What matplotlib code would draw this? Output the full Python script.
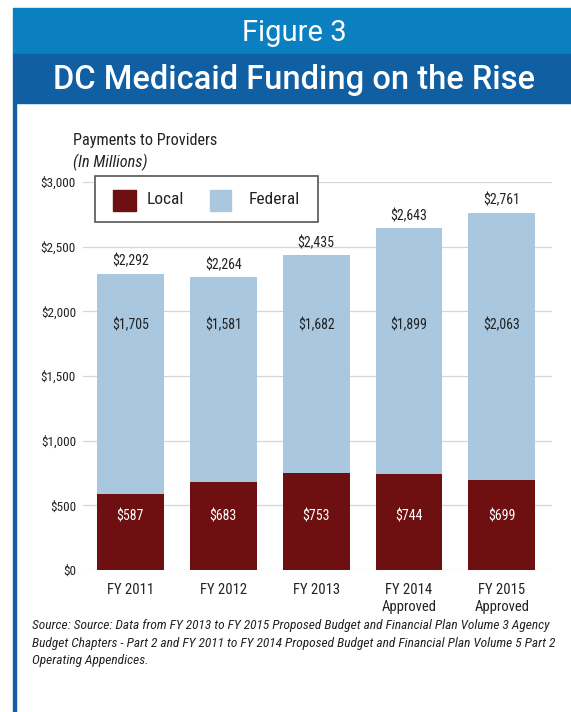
import matplotlib
matplotlib.use("Agg")
import matplotlib.pyplot as plt
from matplotlib.patches import Rectangle
from matplotlib import font_manager as fm

categories = ["FY 2011", "FY 2012", "FY 2013", "FY 2014\nApproved", "FY 2015\nApproved"]
series_names = ["Local", "Federal"]
local_vals = [587, 683, 753, 744, 699]
federal_vals = [1705, 1581, 1682, 1899, 2063]
total_labels = ["$2,292", "$2,264", "$2,435", "$2,643", "$2,761"]
yticks = [0, 500, 1000, 1500, 2000, 2500, 3000]
ytick_labels = ["$0", "$500", "$1,000", "$1,500", "$2,000", "$2,500", "$3,000"]

names = {f.name for f in fm.fontManager.ttflist}
cands = ["Roboto Condensed", "Liberation Sans Narrow", "Open Sans Condensed", "Lato", "DejaVu Sans"]
NARROW = [c for c in cands if c in names][0]
plt.rcParams["font.family"] = [NARROW, "DejaVu Sans"]

RED = "#6e1011"
BLUE = "#a9c7df"
TXT = "#222222"
W, H = 571, 712
fig = plt.figure(figsize=(W / 100, H / 100), dpi=100)

def fx(px):
    return px / W

def fy(py):
    return 1 - py / H

def frect(x0, y0, x1, y1, **kw):
    # rectangle given in pixel coords from top-left
    r = Rectangle((fx(x0), fy(y1)), fx(x1) - fx(x0), fy(y0) - fy(y1), transform=fig.transFigure, **kw)
    fig.patches.append(r)
    return r

# header bands
frect(13, 8, 571, 54, color="#0a80c1", zorder=0)
frect(13, 54, 571, 103, color="#0f5fa2", zorder=0)
frect(13, 103, 15.5, 712, color="#0f5fa2", zorder=0)
fig.text(fx(294), fy(33), "Figure 3", color="white", fontsize=21, family="Roboto",
         fontweight="normal", ha="center", va="center")
fig.text(fx(294), fy(79.5), "DC Medicaid Funding on the Rise", color="white", fontsize=23.5,
         family="Roboto", fontweight="medium", ha="center", va="center")

ax = fig.add_axes([fx(83), fy(570), fx(552) - fx(83), fy(182) - fy(570)])
x = list(range(len(categories)))
ax.bar(x, local_vals, width=0.72, color=RED, zorder=3, label=series_names[0])
ax.bar(x, federal_vals, width=0.72, bottom=local_vals, color=BLUE, zorder=3, label=series_names[1])
ax.set_xlim(-0.51, 4.54)
ax.set_ylim(0, 3000)
ax.set_yticks(yticks)
ax.set_yticklabels(ytick_labels)
ax.set_xticks(x)
ax.set_xticklabels(categories, linespacing=1.3)
ax.grid(axis="y", color="#d6d6d6", lw=0.9, zorder=0)
for s in ax.spines.values():
    s.set_visible(False)
ax.tick_params(axis="both", length=0, labelsize=10.5, colors=TXT)
ax.tick_params(axis="y", pad=5)
ax.tick_params(axis="x", pad=9)
for lbl in ax.get_yticklabels():
    lbl.set_fontsize(9.5)

for i in x:
    tot = local_vals[i] + federal_vals[i]
    ax.text(i, tot + 40, total_labels[i], ha="center", va="bottom", fontsize=10, color=TXT)
    ax.text(i, 1890, f"${federal_vals[i]:,}", ha="center", va="center", fontsize=10, color=TXT)
    ax.text(i, 415, f"${local_vals[i]:,}", ha="center", va="center", fontsize=10, color="white")

# legend box (drawn manually to match the reference placement)
frect(95, 176, 318, 222, facecolor="white", edgecolor="#555555", lw=1.2, zorder=5)
frect(113, 190, 136, 211, color=RED, zorder=6)
frect(210, 190, 231, 211, color=BLUE, zorder=6)
fig.text(fx(147), fy(199.5), series_names[0], fontsize=12.5, color=TXT, va="center", zorder=7)
fig.text(fx(249), fy(199.5), series_names[1], fontsize=12.5, color=TXT, va="center", zorder=7)

fig.text(fx(73), fy(141), "Payments to Providers", fontsize=11.7, color=TXT, va="center")
fig.text(fx(73), fy(162), "(In Millions)", fontsize=11.7, style="italic", color=TXT, va="center")

caption = ("Source: Source: Data from FY 2013 to FY 2015 Proposed Budget and Financial Plan Volume 3 Agency\n"
           "Budget Chapters - Part 2 and FY 2011 to FY 2014 Proposed Budget and Financial Plan Volume 5 Part 2\n"
           "Operating Appendices.")
fig.text(fx(32), fy(619), caption, fontsize=9.6, style="italic", color=TXT, va="top",
         linespacing=1.45)

fig.savefig("out.png", dpi=100)
